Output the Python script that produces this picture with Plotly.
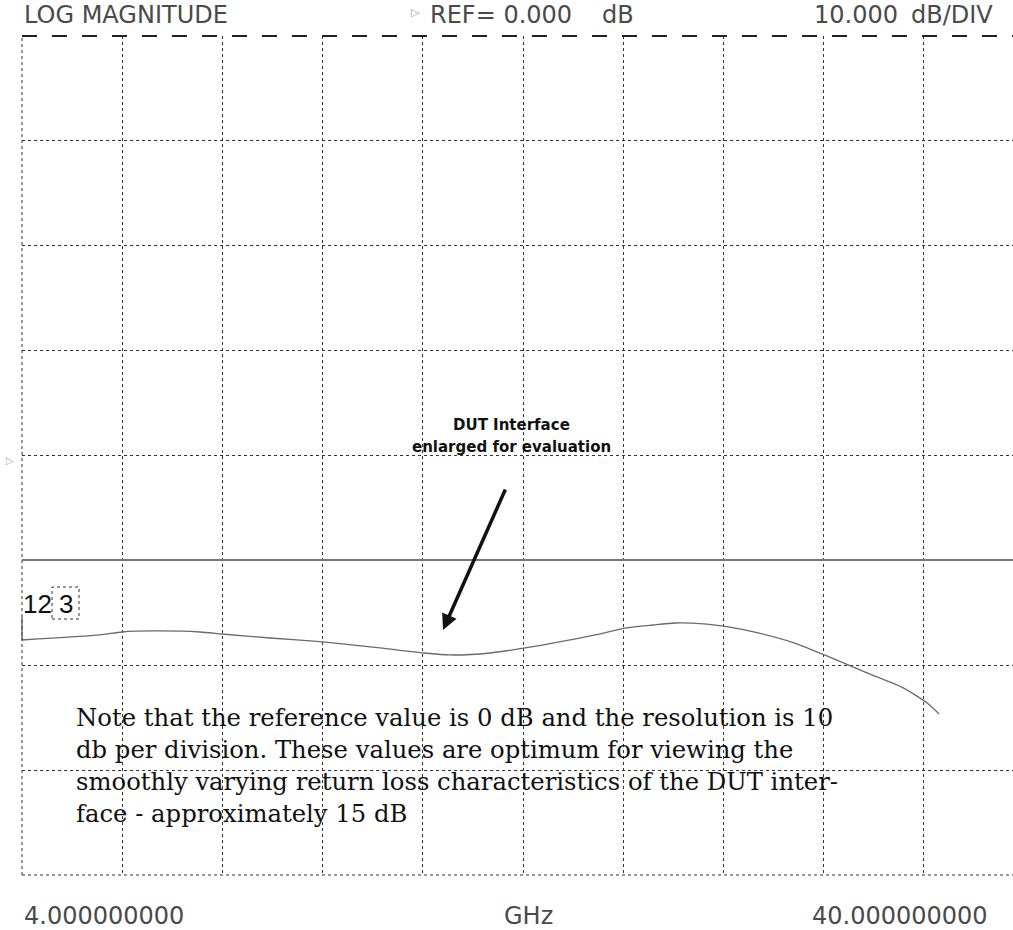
import plotly.graph_objects as go

# ---- data ----
freq_ghz = [4.00, 6.80, 7.59, 8.78, 10.40, 11.19, 12.91, 14.82, 16.86, 18.44, 19.38,
            20.82, 22.07, 23.30, 24.59, 25.70, 26.67, 27.46, 28.50, 29.37, 30.45,
            31.74, 33.00, 34.36, 35.66, 36.52, 36.95]
mag_db = [-17.59, -17.11, -16.83, -16.73, -16.83, -17.02, -17.40, -17.78, -18.35, -18.83,
          -19.02, -18.83, -18.35, -17.78, -17.11, -16.44, -16.16, -15.97, -16.06, -16.35,
          -16.92, -17.87, -19.21, -20.73, -22.16, -23.59, -24.64]
start_label = "4.000000000"
stop_label = "40.000000000"
ref_label = "REF= 0.000"
scale_label = "10.000"
note_lines = [
    "Note that the reference value is 0 dB and the resolution is 10",
    "db per division. These values are optimum for viewing the",
    "smoothly varying return loss characteristics of the DUT inter-",
    "face - approximately 15 dB",
]

W, H = 1013, 930
L, R, T, B = 22, 0, 36, 55
PW, PH = W - L - R, H - T - B
PX_PER_GHZ = 100.2 / 3.6
x_max = 4 + PW / PX_PER_GHZ


def px(x):
    return (x - L) / PW


def py(y):
    return (H - B - y) / PH


fig = go.Figure()
fig.add_trace(go.Scatter(x=freq_ghz, y=mag_db, mode="lines",
                         line=dict(color="#6a6a6a", width=1.3, shape="spline", smoothing=0.6),
                         hoverinfo="skip", showlegend=False))

hdr_font = dict(family="DejaVu Sans", size=24, color="#4a4a4a")
ann = []


def text(x, y, s, font, xanchor="left", yanchor="middle"):
    ann.append(dict(x=px(x), y=py(y), xref="paper", yref="paper", text=s, showarrow=False,
                    xanchor=xanchor, yanchor=yanchor, font=font))


text(22, 15, "LOG MAGNITUDE", hdr_font)
text(415, 13, "▷", dict(family="DejaVu Sans", size=11, color="#999"), xanchor="center")
text(428, 15, ref_label, hdr_font)
text(600, 15, "dB", hdr_font)
text(812, 15, scale_label, hdr_font)
text(909, 15, "dB/DIV", hdr_font)
text(22, 916, start_label, hdr_font)
text(528, 916, "GHz", hdr_font, xanchor="center")
text(990, 916, stop_label, hdr_font, xanchor="right")
text(10, 460, "▷", dict(family="DejaVu Sans", size=10, color="#aaa"), xanchor="center")

bold = dict(family="DejaVu Sans", size=15, color="#111")
text(511, 425, "<b>DUT Interface</b>", bold, xanchor="center")
text(511, 447, "<b>enlarged for evaluation</b>", bold, xanchor="center")

mk = dict(family="Liberation Sans", size=26, color="#111")
text(21, 604, "12", mk)
text(65.5, 604, "3", mk, xanchor="center")

serif = dict(family="DejaVu Serif", size=24.3, color="#111")
for i, s in enumerate(note_lines):
    text(74, 717 + i * 32, s, serif)

# arrow
ann.append(dict(x=px(443), y=py(630), xref="paper", yref="paper", ax=63, ay=-142,
                axref="pixel", ayref="pixel", text="", showarrow=True, arrowhead=2,
                arrowsize=0.9, arrowwidth=3.5, arrowcolor="#111"))

shapes = [
    dict(type="line", xref="paper", yref="paper", x0=0, x1=1, y0=py(36), y1=py(36),
         line=dict(color="#222", width=2, dash="longdash")),
    dict(type="line", xref="paper", yref="paper", x0=0, x1=1, y0=py(875), y1=py(875),
         line=dict(color="#333", width=1, dash="dot")),
    dict(type="line", xref="paper", yref="paper", x0=0, x1=0, y0=0, y1=1,
         line=dict(color="#333", width=1, dash="dot")),
    dict(type="line", xref="paper", yref="paper", x0=0, x1=1, y0=py(560), y1=py(560),
         line=dict(color="#777", width=2)),
    dict(type="line", xref="paper", yref="paper", x0=px(22), x1=px(22), y0=py(617), y1=py(640),
         line=dict(color="#555", width=1.3)),
    dict(type="rect", xref="paper", yref="paper", x0=px(52), x1=px(79), y0=py(619), y1=py(587),
         line=dict(color="#333", width=1, dash="dot")),
]

fig.update_layout(
    width=W, height=H, autosize=False,
    margin=dict(l=L, r=R, t=T, b=B),
    paper_bgcolor="white", plot_bgcolor="white",
    xaxis=dict(range=[4, x_max], tick0=4, dtick=3.6, showgrid=True, griddash="dot",
               gridcolor="#333", gridwidth=1, zeroline=False, showticklabels=False,
               ticks="", showline=False, fixedrange=True),
    yaxis=dict(range=[-40, 40], tick0=0, dtick=10, showgrid=True, griddash="dot",
               gridcolor="#333", gridwidth=1, zeroline=False, showticklabels=False,
               ticks="", showline=False, fixedrange=True),
    annotations=ann, shapes=shapes, showlegend=False,
)

fig.write_html("out.html", config={"displayModeBar": False},
               post_script="document.body.style.margin='0';")
